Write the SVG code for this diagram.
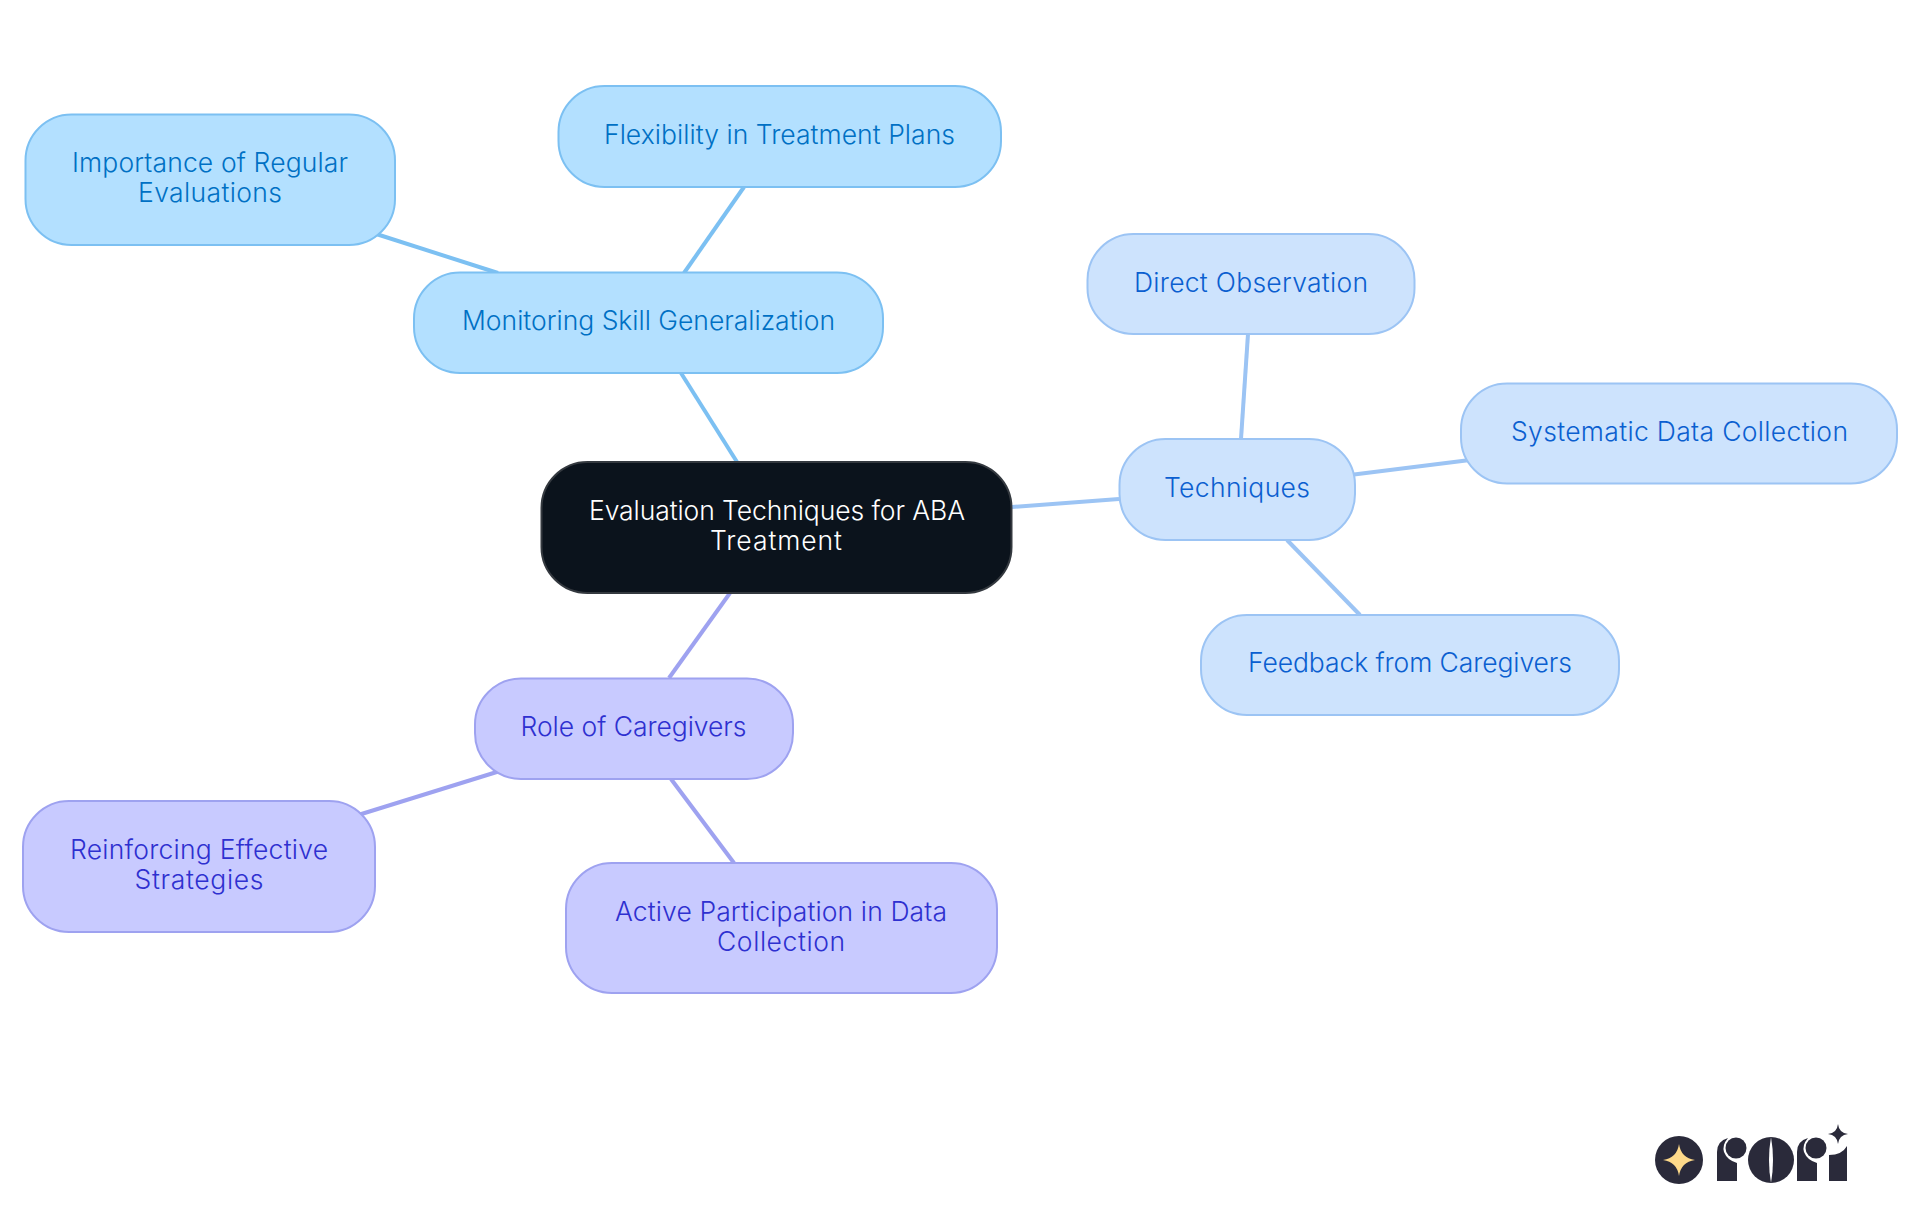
<svg xmlns="http://www.w3.org/2000/svg" width="1920" height="1215" viewBox="0 0 1920 1215">
<style>
text{font-family:"Inter","Noto Sans","Liberation Sans",sans-serif;font-size:26.5px;text-anchor:middle;font-weight:350}
rect{stroke-width:2}
.c0 rect{fill:#0b131c;stroke:#34393f}.c0 text{fill:#fff;font-weight:300}
.c1 rect{fill:#b3e0ff;stroke:#7cc0f2}.c1 text{fill:#0070c4}
.c2 rect{fill:#cde3fd;stroke:#9cc4f4}.c2 text{fill:#0b5fd0}
.c3 rect{fill:#c8caff;stroke:#9ea2f0}.c3 text{fill:#2e30d0}
.e1{stroke:#7cc0f2}.e2{stroke:#9cc4f4}.e3{stroke:#9ea2f0}
#connectors line{stroke-width:4;fill:none}
.logo{fill:#2a2a3a}
</style>
<rect width="1920" height="1215" fill="#fff" style="stroke:none"/>
<g id="connectors">
<line class="e1" x1="737" y1="462" x2="681" y2="373"/>
<line class="e1" x1="684" y1="273" x2="744" y2="187"/>
<line class="e1" x1="498" y1="273" x2="370" y2="232"/>
<line class="e2" x1="1012" y1="507" x2="1119" y2="499"/>
<line class="e2" x1="1241" y1="439" x2="1248" y2="334"/>
<line class="e2" x1="1350" y1="475" x2="1470" y2="460"/>
<line class="e2" x1="1287" y1="540" x2="1360" y2="615"/>
<line class="e3" x1="730" y1="593" x2="669" y2="678"/>
<line class="e3" x1="500" y1="771" x2="355" y2="816"/>
<line class="e3" x1="671" y1="779" x2="734" y2="863"/>
</g>
<g id="node-root" class="c0"><rect x="541.5" y="462" width="470" height="131" rx="46"/><text x="777" y="519.500" textLength="376">Evaluation Techniques for ABA</text><text x="776" y="549.500" textLength="132">Treatment</text></g>
<g id="node-monitoring" class="c1"><rect x="414" y="272.500" width="469" height="100.500" rx="46"/><text x="648.500" y="329.500" textLength="373">Monitoring Skill Generalization</text></g>
<g id="node-flexibility" class="c1"><rect x="558.500" y="86" width="442.500" height="101" rx="46"/><text x="779.500" y="143.500" textLength="351">Flexibility in Treatment Plans</text></g>
<g id="node-importance" class="c1"><rect x="25.500" y="114.500" width="369.500" height="130.500" rx="46"/><text x="210" y="172" textLength="276">Importance of Regular</text><text x="210" y="202" textLength="144">Evaluations</text></g>
<g id="node-techniques" class="c2"><rect x="1119.500" y="439" width="235.500" height="101" rx="46"/><text x="1237" y="497" textLength="146">Techniques</text></g>
<g id="node-direct" class="c2"><rect x="1087.500" y="234" width="327" height="100" rx="46"/><text x="1251" y="292" textLength="234">Direct Observation</text></g>
<g id="node-systematic" class="c2"><rect x="1461" y="383.500" width="436" height="100" rx="46"/><text x="1679.500" y="441" textLength="337">Systematic Data Collection</text></g>
<g id="node-feedback" class="c2"><rect x="1201" y="615" width="418" height="100" rx="46"/><text x="1410" y="672" textLength="324">Feedback from Caregivers</text></g>
<g id="node-role" class="c3"><rect x="475" y="678.500" width="318" height="100.500" rx="46"/><text x="633.500" y="736" textLength="226">Role of Caregivers</text></g>
<g id="node-reinforcing" class="c3"><rect x="23" y="801" width="352" height="131" rx="46"/><text x="199" y="858.500" textLength="258">Reinforcing Effective</text><text x="199" y="888.500" textLength="129">Strategies</text></g>
<g id="node-active" class="c3"><rect x="566" y="863" width="431" height="130" rx="46"/><text x="781" y="920.500" textLength="332">Active Participation in Data</text><text x="781" y="950.500" textLength="128">Collection</text></g>
<g id="logo">
<circle class="logo" cx="1679" cy="1160" r="24"/>
<path fill="#fdd98a" d="M1679 1144Q1681 1158 1695 1160Q1681 1162 1679 1176Q1677 1162 1663 1160Q1677 1158 1679 1144Z"/>
<path class="logo" d="M1717 1181V1152Q1717 1141 1728 1138Q1722 1145 1724 1152Q1727 1160 1737 1163V1181Z"/>
<circle class="logo" cx="1736" cy="1148" r="10.500"/>
<circle class="logo" cx="1771" cy="1160" r="23"/>
<path fill="#fff" d="M1771 1137Q1767 1160 1771 1183Q1775 1160 1771 1137Z"/>
<path class="logo" d="M1797 1181V1152Q1797 1141 1808 1138Q1802 1145 1804 1152Q1807 1160 1817 1163V1181Z"/>
<circle class="logo" cx="1816" cy="1148" r="10.500"/>
<path class="logo" d="M1829 1181V1155Q1842 1155 1847 1146V1181Z"/>
<path class="logo" d="M1838 1124Q1839 1133 1848 1134Q1839 1135 1838 1144Q1837 1135 1828 1134Q1837 1133 1838 1124Z"/>
</g>
</svg>
